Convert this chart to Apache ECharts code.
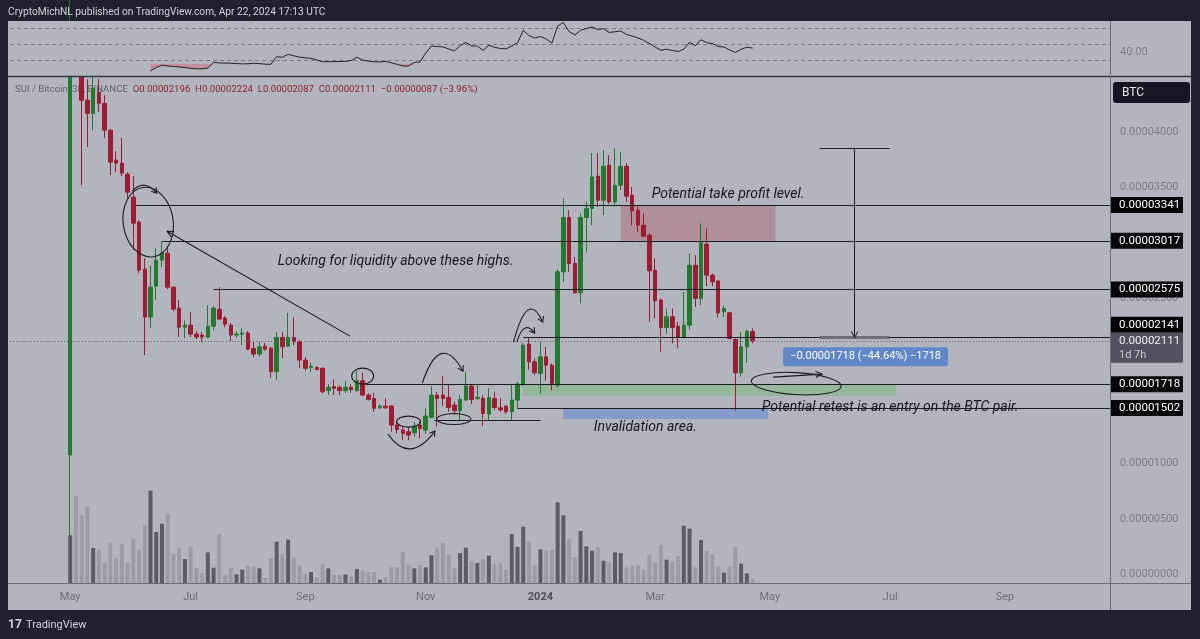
<!DOCTYPE html>
<html>
<head>
<meta charset="utf-8">
<title>SUI / Bitcoin 3D</title>
<script src="https://cdn.jsdelivr.net/npm/echarts@6/dist/echarts.min.js"></script>
<style>
html,body{margin:0;padding:0;background:#1e222d;}
#chart{width:1200px;height:639px;}
</style>
</head>
<body>
<div id="chart"></div>
<script>
// ================= DATA (prices in 1e-8 BTC) =================
const firstBarUTC = Date.UTC(2023, 3, 30);   // first 3D bar
const barDays = 3;

// [open, close, low, high] per 3-day bar
const ohlc = [
 [1077,4800,350,6500],[4900,4620,4550,5300],[4620,4290,3520,4700],[4290,4169,3864,4480],[4169,4398,4018,4498],
 [4362,4262,4181,4480],[4262,4018,3946,4335],[4018,3729,3611,4030],[3747,3720,3638,3828],[3720,3629,3602,3946],
 [3620,3457,3403,3638],[3412,3176,2932,3602],[3186,2751,2724,3204],[2760,2326,1982,2860],[2326,2597,2226,2796],
 [2606,2842,2480,2950],[2842,2905,2778,3013],[2905,2597,2580,2960],[2597,2398,2380,2606],[2407,2235,2145,2480],
 [2235,2253,2136,2298],[2253,2172,2145,2371],[2172,2145,2126,2199],[2163,2145,2100,2190],[2145,2244,2136,2434],
 [2244,2407,2208,2425],[2398,2308,2299,2597],[2317,2262,2235,2335],[2253,2163,2109,2271],[2163,2172,2140,2199],
 [2172,2181,2072,2226],[2181,2036,2027,2199],[2042,1991,1961,2102],[1991,2057,1970,2102],[2063,2036,2021,2091],
 [2045,1831,1774,2057],[1831,2142,1756,2193],[2142,2057,1955,2193],[2063,2142,2057,2365],[2142,2102,2072,2323],
 [2102,1937,1864,2118],[1937,1862,1840,1966],[1870,1880,1828,1915],[1870,1852,1845,1880],[1862,1650,1636,1871],
 [1660,1690,1620,1720],[1697,1681,1620,1762],[1690,1660,1620,1710],[1660,1690,1640,1750],[1690,1670,1640,1720],
 [1660,1750,1650,1840],[1750,1620,1610,1822],[1620,1581,1570,1635],[1590,1500,1469,1640],[1505,1520,1495,1535],
 [1520,1505,1495,1590],[1520,1348,1288,1530],[1348,1309,1273,1378],[1303,1273,1213,1333],[1288,1258,1213,1333],
 [1279,1339,1243,1378],[1348,1318,1228,1378],[1303,1430,1267,1500],[1418,1620,1409,1701],[1620,1590,1333,1650],
 [1620,1590,1520,1792],[1599,1508,1469,1710],[1530,1478,1440,1560],[1478,1581,1394,1620],[1575,1701,1568,1831],
 [1701,1581,1538,1720],[1590,1600,1575,1720],[1590,1454,1339,1620],[1448,1599,1394,1680],[1590,1508,1485,1650],
 [1505,1485,1470,1590],[1520,1469,1448,1530],[1469,1575,1394,1720],[1575,1720,1500,1740],[1720,2072,1700,2090],
 [2081,1921,1850,2145],[1921,1822,1801,1950],[1816,1966,1635,2102],[1966,1891,1749,2057],[1891,1726,1665,1907],
 [1710,2736,1690,2760],[2736,3228,2645,3400],[3228,2812,2736,3294],[2812,2546,2540,2872],[2546,3228,2450,3264],
 [3228,3310,2917,3370],[3310,3595,3158,3813],[3602,3385,3324,3813],[3385,3692,3249,3837],[3701,3369,3351,3792],
 [3369,3520,3324,3853],[3520,3692,3475,3822],[3692,3421,3369,3722],[3430,3288,3158,3505],[3294,3158,3098,3324],
 [3158,3059,3050,3264],[3068,2745,2283,3083],[2751,2473,2314,2857],[2480,2232,2012,2495],[2232,2329,2172,2404],
 [2329,2232,2088,2404],[2244,2142,2042,2283],[2142,2253,2133,2555],[2253,2796,2214,2902],[2796,2495,2419,2887],
 [2495,2998,2434,3174],[2987,2706,2606,3128],[2706,2645,2606,2720],[2654,2365,2323,2660],[2374,2404,2329,2430],
 [2365,2133,2124,2374],[2124,1822,1480,2133],[1822,2057,1786,2193],[2057,2198,1912,2214],[2196,2111,2087,2224]
];

// volume (relative units) per bar
const volume = [
 143,262,203,230,105,100,60,119,75,117,
 60,133,100,174,277,153,178,208,87,105,
 72,110,45,30,92,46,147,23,46,26,
 40,53,50,44,15,75,124,87,130,76,
 53,28,33,17,58,44,25,24,26,19,
 42,37,33,33,10,17,47,47,93,55,
 44,54,47,83,106,120,85,44,90,106,
 65,60,73,82,56,61,40,147,108,169,
 124,53,101,97,100,242,203,131,78,156,
 110,97,108,67,64,92,90,47,51,53,
 40,85,63,115,70,65,80,172,163,47,
 129,96,87,49,31,49,108,58,29,12
];

// RSI(14), starting at bar 14
const rsiFirstBar = 14;
const rsi = [
 16.3,20.6,23.5,22.5,21.9,21.3,20.5,19.6,19.0,19.0,20.0,
 27.1,26.3,26.1,26.0,25.6,25.1,25.3,25.9,25.5,24.8,24.6,
 34.1,33.4,37.1,35.3,33.5,32.8,32.0,30.0,27.9,27.9,
 28.0,28.1,28.3,29.4,33.4,30.0,28.5,27.8,27.6,28.3,
 26.6,24.6,22.5,22.5,26.9,27.5,38.8,47.5,46.9,46.3,
 43.8,41.3,48.1,51.9,47.5,47.5,41.9,48.5,45.9,44.4,
 43.8,47.5,51.3,66.9,60.6,57.5,59.4,56.3,51.3,72.5,
 76.9,65.6,61.3,66.9,69.4,71.3,68.1,69.1,64.4,65.3,
 66.3,61.9,60.0,57.5,54.6,50.6,46.3,42.1,43.5,41.9,
 40.6,43.4,52.1,47.9,55.4,51.6,50.6,46.9,46.3,42.5,
 39.4,43.5,45.9,45.0
];
const rsiLevels = [70, 50, 30];
const rsiOversoldFill = 25;
const rsiTickValues = [40];

// horizontal levels drawn by the author: price and the bar they start from
const levelPrices = [3341, 3017, 2575, 2141, 1718, 1502];
const levelStartBars = [11.5, 16, 25, 79, 51.5, 78];
const shortLine = {price: 1388, fromBar: 63.5, toBar: 82};

// zones: [fromBar, toBar, lowPrice, highPrice]
const takeProfitZone = [96, 123, 3017, 3341];
const retestZone = [79, 144, 1611, 1718];
const invalidationZone = [86, 121.7, 1403, 1502];

// measure tool
const measureBar = 136.8, measureCap = [130.7, 142.9];
const measureFrom = 2141, measureDelta = 1718;
const measureText = '\u22120.00001718 (\u221244.64%) \u22121718';
const measureLabelAt = [138.7, 1968];

// time-axis tick labels (first bar of month)
const monthTicks = [[2023,4,'May'],[2023,6,'Jul'],[2023,8,'Sep'],[2023,10,'Nov'],[2024,0,'2024'],[2024,2,'Mar'],[2024,4,'May'],[2024,6,'Jul'],[2024,8,'Sep']];

// text notes: [text, bar, price]
const notes = [
 ['Looking for liquidity above these highs.', 36.2, 2833],
 ['Potential take profit level.', 101.4, 3439],
 ['Potential retest is an entry on the BTC pair.', 120.6, 1511],
 ['Invalidation area.', 91.3, 1330]
];

// hand-drawn scribbles (data anchors: [bar, price])
const scribbleEllipses = [
 {c:[13.6,3186], rx:25, ry:35, rot:0.15},
 {c:[51,1792], rx:11, ry:8, rot:0},
 {c:[59,1380], rx:12, ry:5.5, rot:0},
 {c:[66.9,1403], rx:17, ry:5.5, rot:0},
 {c:[126.6,1724], rx:45, ry:11, rot:-0.06}
];
const scribbleCurves = [
 {from:[10.8,3466], ctrl:[13.0,3584], to:[15.1,3448]},
 {from:[55.4,1267], ctrl:[59.2,986], to:[63.6,1294]},
 {from:[61.4,1728], ctrl:[64.5,2208], to:[68.5,1837]},
 {from:[77.3,2100], ctrl:[79.8,2588], to:[82.4,2281]},
 {from:[77.9,2100], ctrl:[79.1,2312], to:[81.0,2181]}
];
const scribbleArrows = [
 {from:[48.8,2154], to:[16.9,3104]},
 {from:[122.6,1783], to:[131.1,1810]}
];

// ================= STYLE / LAYOUT =================
const X_MIN = -10.5, X_MAX = 181.5;
const BG = '#b2b5be', DARK = '#1e222d';
const UP = '#23792f', DOWN = '#9c1c33';
const VOL_UP = '#5b5d64', VOL_DOWN = '#9a9da5';
const INK = '#1b1c20';
const FONT = 'Roboto, "Noto Sans", sans-serif';
const fmt = v => (v / 1e8).toFixed(8);

const chart = echarts.init(document.getElementById('chart'), null, {width: 1200, height: 639});

const candleData = ohlc.map((d, i) => [i, d[0], d[1], d[2], d[3]]);
const volData = volume.map((v, i) => ({value: [i, v], itemStyle: {color: ohlc[i][1] >= ohlc[i][0] ? VOL_UP : VOL_DOWN}}));
const rsiData = rsi.map((r, k) => [rsiFirstBar + k, r]);

const tickIdx = monthTicks.map(m => Math.round((Date.UTC(m[0], m[1], 1) - firstBarUTC) / 86400000 / barDays));
const tickText = {};
tickIdx.forEach((ix, k) => { tickText[ix] = monthTicks[k][2]; });

const lastClose = ohlc[ohlc.length - 1][1];
const measureTop = measureFrom + measureDelta;

const levelLines = levelPrices.map((p, k) => [{coord: [levelStartBars[k], p]}, {coord: [X_MAX, p]}]);
levelLines.push([{coord: [shortLine.fromBar, shortLine.price]}, {coord: [shortLine.toBar, shortLine.price]}]);
levelLines.push([{coord: [X_MIN, lastClose], lineStyle: {color: '#5f626c', type: [1, 2], width: 1}}, {coord: [X_MAX, lastClose]}]);
levelLines.push([{coord: [measureBar, measureTop]}, {coord: [measureBar, measureFrom]}]);
levelLines.push([{coord: [measureCap[0], measureTop]}, {coord: [measureCap[1], measureTop]}]);
levelLines.push([{coord: [measureCap[0], measureFrom], lineStyle: {color: '#6b6e77', width: 3}}, {coord: [measureCap[1], measureFrom]}]);

const zone = (z, color) => [{coord: [z[0], z[3]], itemStyle: {color}}, {coord: [z[1], z[2]]}];

const axisCommon = {axisLine: {show: false}, axisTick: {show: false}, splitLine: {show: false}};

const option = {
  animation: false,
  backgroundColor: DARK,
  grid: [
    {left: 10, right: 89, top: 22, height: 54},
    {left: 10, right: 89, top: 77, height: 497},
    {left: 10, right: 89, top: 77, bottom: 56}
  ],
  xAxis: [0, 1, 2].map(g => Object.assign({
    type: 'value', gridIndex: g, min: X_MIN, max: X_MAX, show: g === 2,
    axisLabel: g === 2 ? {
      customValues: tickIdx,
      formatter: v => { const t = tickText[Math.round(v)]; return t === '2024' ? '{y|2024}' : (t || ''); },
      color: '#6b6e78', fontSize: 11, fontFamily: FONT, margin: 9,
      rich: {y: {fontWeight: 'bold', color: '#4c4f58', fontSize: 11, fontFamily: FONT}}
    } : {show: false}
  }, axisCommon)),
  yAxis: [
    Object.assign({type: 'value', gridIndex: 0, position: 'right', min: 10, max: 77.5,
      axisLabel: {customValues: rsiTickValues, formatter: v => rsiTickValues.indexOf(v) >= 0 ? v.toFixed(2) : '',
        color: '#7b7e88', fontSize: 11, fontFamily: FONT, margin: 9}}, axisCommon),
    Object.assign({type: 'value', gridIndex: 1, position: 'right', min: 0, max: 4500, interval: 500,
      axisLabel: {formatter: v => v >= 4500 ? '' : fmt(v), color: '#7b7e88', fontSize: 11, fontFamily: FONT, margin: 9}}, axisCommon),
    Object.assign({type: 'value', gridIndex: 2, min: 0, max: 1518, show: false}, axisCommon)
  ],
  series: [
    {type: 'line', xAxisIndex: 0, yAxisIndex: 0, data: [], silent: true, z: 6,
      markArea: {silent: true, itemStyle: {color: 'rgba(90,94,106,0.13)'}, data: [[{yAxis: rsiLevels[2]}, {yAxis: rsiLevels[0]}]]},
      markLine: {silent: true, symbol: ['none', 'none'], label: {show: false},
        lineStyle: {color: '#7b7e88', type: [4, 3], width: 1}, data: rsiLevels.map(v => ({yAxis: v}))}},
    {type: 'line', xAxisIndex: 0, yAxisIndex: 0, silent: true, z: 7, symbol: 'none',
      data: rsiData.map(d => [d[0], Math.min(d[1], rsiOversoldFill)]),
      lineStyle: {width: 0}, areaStyle: {origin: rsiOversoldFill, color: 'rgba(214,104,120,0.5)', opacity: 1}},
    {type: 'line', xAxisIndex: 0, yAxisIndex: 0, silent: true, z: 8, symbol: 'none', data: rsiData,
      lineStyle: {color: '#202226', width: 1}},
    {type: 'bar', xAxisIndex: 2, yAxisIndex: 2, silent: true, z: 1, barWidth: 4, data: volData},
    {type: 'line', xAxisIndex: 1, yAxisIndex: 1, data: [], silent: true, z: 1,
      markArea: {silent: true, data: [
        zone(takeProfitZone, 'rgba(172,92,104,0.42)'),
        zone(retestZone, 'rgba(108,184,112,0.42)'),
        zone(invalidationZone, 'rgba(88,126,216,0.48)')
      ]}},
    {type: 'candlestick', xAxisIndex: 1, yAxisIndex: 1, data: candleData, encode: {x: 0, y: [1, 2, 3, 4]},
      barWidth: 4, silent: true, z: 3, clip: true,
      itemStyle: {color: UP, color0: DOWN, borderColor: UP, borderColor0: DOWN, borderWidth: 1}},
    {type: 'line', xAxisIndex: 1, yAxisIndex: 1, data: [], silent: true, z: 5,
      markLine: {silent: true, symbol: ['none', 'none'], label: {show: false},
        lineStyle: {color: INK, width: 1, type: 'solid'}, data: levelLines}}
  ]
};
chart.setOption(option);

// ================= OVERLAY GRAPHICS (positions via the chart's scales) =================
const P = (x, y) => chart.convertToPixel({xAxisIndex: 1, yAxisIndex: 1}, [x, y]);
const g = [];
const plotL = 8, plotR = 1191, plotT = 21, plotB = 610;
const axisX = P(X_MAX, 0)[0];
const timeAxisY = P(0, 0)[1] + 9;
const priceTopY = P(0, 4500)[1];

g.push({type: 'rect', z: -10, silent: true, shape: {x: plotL, y: plotT, width: plotR - plotL, height: plotB - plotT}, style: {fill: BG}});
// the RSI pane is opaque: it hides price bars that run above the price pane
g.push({type: 'rect', z: 4, silent: true, shape: {x: plotL, y: plotT, width: axisX - plotL, height: priceTopY - plotT - 0.5}, style: {fill: BG}});
g.push({type: 'line', z: 50, silent: true, shape: {x1: plotL, y1: 76.5, x2: plotR, y2: 76.5}, style: {stroke: '#33363f', lineWidth: 1.5}});
g.push({type: 'line', z: 50, silent: true, shape: {x1: axisX - 0.5, y1: plotT, x2: axisX - 0.5, y2: plotB}, style: {stroke: '#6c6f78', lineWidth: 1}});
g.push({type: 'line', z: 50, silent: true, shape: {x1: plotL, y1: timeAxisY + 0.5, x2: plotR, y2: timeAxisY + 0.5}, style: {stroke: '#6c6f78', lineWidth: 1}});

// header texts
g.push({type: 'text', z: 50, silent: true, style: {text: 'CryptoMichNL published on TradingView.com, Apr 22, 2024 17:13 UTC',
  x: 8, y: 12, fill: '#d1d4dc', font: '10.2px ' + FONT, verticalAlign: 'middle', textVerticalAlign: 'middle'}});
const last = ohlc[ohlc.length - 1], prevClose = ohlc[ohlc.length - 2][1];
const chg = last[1] - prevClose;
const pct = Math.abs(chg / prevClose * 100).toFixed(2);
g.push({type: 'text', z: 1, silent: true, style: {
  text: '{n|SUI / Bitcoin, 3D, BINANCE}  {k|O}{v|' + fmt(last[0]) + '}  {k|H}{v|' + fmt(last[3]) + '}  {k|L}{v|' + fmt(last[2]) + '}  {k|C}{v|' + fmt(last[1]) + '}  {v|\u2212' + fmt(Math.abs(chg)) + ' (\u2212' + pct + '%)}',
  x: 15, y: 90, verticalAlign: 'middle', textVerticalAlign: 'middle', font: '9.6px ' + FONT,
  rich: {n: {fill: '#62656f', font: '9.6px ' + FONT}, k: {fill: '#7a3340', font: '9.6px ' + FONT}, v: {fill: '#8e2034', font: '9.6px ' + FONT}}}});

// BTC currency box
g.push({type: 'rect', z: 60, silent: true, shape: {x: axisX + 2, y: 82, width: plotR - axisX - 3, height: 21, r: 3}, style: {fill: '#131722'}});
g.push({type: 'text', z: 61, silent: true, style: {text: 'BTC', x: axisX + 11, y: 92.5, fill: '#e6e7ea', font: '12px ' + FONT, verticalAlign: 'middle', textVerticalAlign: 'middle'}});

// price-axis badges
const yCur = P(0, lastClose)[1];
const curTop = yCur - 8;
levelPrices.forEach(p => {
  let yc = P(0, p)[1];
  if (Math.abs(yc - yCur) < 24) yc = curTop - 8;
  g.push({type: 'rect', z: 60, silent: true, shape: {x: axisX, y: yc - 8, width: 72, height: 16}, style: {fill: '#050608'}});
  g.push({type: 'text', z: 61, silent: true, style: {text: fmt(p), x: axisX + 8, y: yc, fill: '#ffffff', font: '11.5px ' + FONT, verticalAlign: 'middle', textVerticalAlign: 'middle'}});
});
g.push({type: 'rect', z: 60, silent: true, shape: {x: axisX, y: curTop, width: 72, height: 30}, style: {fill: '#4f535d'}});
g.push({type: 'text', z: 61, silent: true, style: {text: fmt(lastClose), x: axisX + 8, y: curTop + 8, fill: '#f0f1f3', font: '11.5px ' + FONT, verticalAlign: 'middle', textVerticalAlign: 'middle'}});
g.push({type: 'text', z: 61, silent: true, style: {text: '1d 7h', x: axisX + 8, y: curTop + 22, fill: '#c9ccd3', font: '11px ' + FONT, verticalAlign: 'middle', textVerticalAlign: 'middle'}});

// measure label + arrow head
function head(tip, from, len, spread) {
  const a = Math.atan2(from[1] - tip[1], from[0] - tip[0]);
  return [[tip[0] + len * Math.cos(a + spread), tip[1] + len * Math.sin(a + spread)], tip,
          [tip[0] + len * Math.cos(a - spread), tip[1] + len * Math.sin(a - spread)]];
}
const mBot = P(measureBar, measureFrom), mTopPx = P(measureBar, measureTop);
g.push({type: 'polyline', z: 55, silent: true, shape: {points: head(mBot, mTopPx, 7, 0.5)}, style: {stroke: INK, lineWidth: 1, fill: 'none'}});
const ml = P(measureLabelAt[0], measureLabelAt[1]);
g.push({type: 'rect', z: 55, silent: true, shape: {x: ml[0] - 82.5, y: ml[1] - 9.5, width: 165, height: 19, r: 3}, style: {fill: '#6088c8'}});
g.push({type: 'text', z: 56, silent: true, style: {text: measureText, x: ml[0], y: ml[1], fill: '#ffffff', font: '11px ' + FONT,
  align: 'center', textAlign: 'center', verticalAlign: 'middle', textVerticalAlign: 'middle'}});

// notes
notes.forEach(n => {
  const p = P(n[1], n[2]);
  g.push({type: 'text', z: 55, silent: true, style: {text: n[0], x: p[0], y: p[1], fill: '#17181c', font: 'italic 14px ' + FONT,
    verticalAlign: 'middle', textVerticalAlign: 'middle'}});
});

// scribbles
const ink = {stroke: INK, lineWidth: 1.1, fill: 'none'};
scribbleEllipses.forEach(e => {
  const c = P(e.c[0], e.c[1]);
  g.push({type: 'ellipse', z: 55, silent: true, shape: {cx: c[0], cy: c[1], rx: e.rx, ry: e.ry},
    rotation: e.rot, originX: c[0], originY: c[1], style: ink});
});
scribbleCurves.forEach(cv => {
  const a = P(cv.from[0], cv.from[1]), c = P(cv.ctrl[0], cv.ctrl[1]), b = P(cv.to[0], cv.to[1]);
  g.push({type: 'bezierCurve', z: 55, silent: true, shape: {x1: a[0], y1: a[1], cpx1: c[0], cpy1: c[1], x2: b[0], y2: b[1]}, style: ink});
  g.push({type: 'polyline', z: 55, silent: true, shape: {points: head(b, c, 6, 0.55)}, style: ink});
});
scribbleArrows.forEach(ar => {
  const a = P(ar.from[0], ar.from[1]), b = P(ar.to[0], ar.to[1]);
  g.push({type: 'line', z: 55, silent: true, shape: {x1: a[0], y1: a[1], x2: b[0], y2: b[1]}, style: ink});
  g.push({type: 'polyline', z: 55, silent: true, shape: {points: head(b, a, 7, 0.45)}, style: ink});
});

// TradingView footer
g.push({type: 'text', z: 50, silent: true, style: {text: '17', x: 8, y: 625, fill: '#d1d4dc', font: 'bold 12px ' + FONT, verticalAlign: 'middle', textVerticalAlign: 'middle'}});
g.push({type: 'text', z: 50, silent: true, style: {text: 'TradingView', x: 26, y: 625, fill: '#d1d4dc', font: '11px ' + FONT, verticalAlign: 'middle', textVerticalAlign: 'middle'}});

chart.setOption({graphic: {elements: g}});
</script>
</body>
</html>
